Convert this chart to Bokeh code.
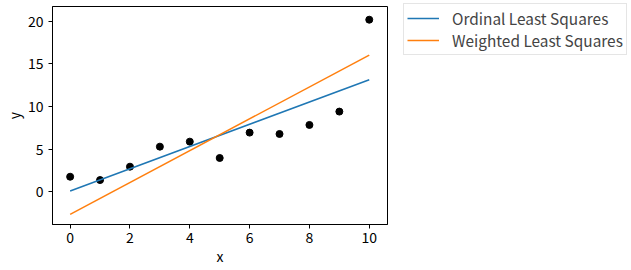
from bokeh.plotting import figure
from bokeh.models import Range1d, Legend, LegendItem, FixedTicker
from bokeh.embed import file_html
from bokeh.resources import INLINE

# data
x = [0, 1, 2, 3, 4, 5, 6, 7, 8, 9, 10]
y = [1.76, 1.37, 2.94, 5.29, 5.88, 3.96, 6.94, 6.78, 7.84, 9.41, 20.2]
fit_x = [0, 10]
ols_y = [0.08, 13.15]
wls_y = [-2.67, 16.04]
x_ticks = [0, 2, 4, 6, 8, 10]
y_ticks = [0, 5, 10, 15, 20]

FONT = "Noto Sans CJK JP"

p = figure(frame_width=335, frame_height=218, output_backend="svg", toolbar_location=None,
           x_range=Range1d(-0.59, 10.61), y_range=Range1d(-3.85, 21.75),
           min_border_left=52, min_border_top=6, min_border_bottom=46, min_border_right=24)

p.xgrid.visible = False
p.ygrid.visible = False
p.outline_line_color = "black"
p.outline_line_width = 1
p.background_fill_color = "white"
p.border_fill_color = "white"

p.xaxis.ticker = FixedTicker(ticks=x_ticks)
p.yaxis.ticker = FixedTicker(ticks=y_ticks)
for ax in (p.xaxis, p.yaxis):
    ax.major_tick_out = 4
    ax.major_tick_in = 0
    ax.minor_tick_line_color = None
    ax.axis_line_color = "black"
    ax.major_tick_line_color = "black"
    ax.major_label_text_font = FONT
    ax.major_label_text_font_size = "14px"
    ax.major_label_text_color = "black"
    ax.axis_label_text_font = FONT
    ax.axis_label_text_font_size = "14px"
    ax.axis_label_text_font_style = "normal"
    ax.axis_label_text_color = "black"
p.xaxis.axis_label = "x"
p.yaxis.axis_label = "y"
p.xaxis.axis_label_standoff = 0
p.xaxis.major_label_standoff = 3
p.yaxis.axis_label_standoff = 1

p.scatter(x, y, size=7, color="black")
r1 = p.line(fit_x, ols_y, line_color="#1f77b4", line_width=1.5)
r2 = p.line(fit_x, wls_y, line_color="#ff7f0e", line_width=1.5)

legend = Legend(items=[LegendItem(label="Ordinal Least Squares", renderers=[r1]),
                       LegendItem(label="Weighted Least Squares", renderers=[r2])],
                location=(16, 169), margin=0, padding=3, spacing=0,
                glyph_width=32, glyph_height=18, label_height=18, label_standoff=13,
                label_text_font=FONT, label_text_font_size="15.4px",
                border_line_color="#cccccc", border_line_width=1,
                background_fill_color="white")
p.add_layout(legend, "right")

open("out.html", "w").write(file_html(p, INLINE))
